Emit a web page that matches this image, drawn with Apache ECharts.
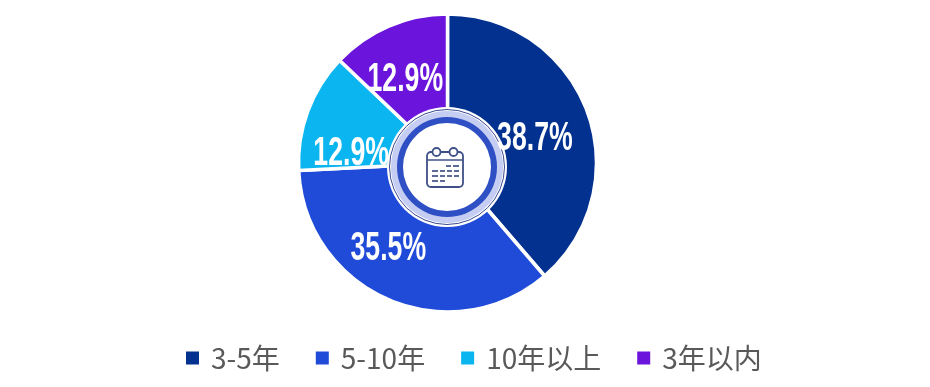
<!DOCTYPE html>
<html lang="zh">
<head>
    <meta charset="UTF-8">
    <title>年限分布</title>
    <script src="https://cdn.jsdelivr.net/npm/echarts@6/dist/echarts.min.js"></script>
    <style>
        html, body { margin: 0; padding: 0; background: #fff; }
        #charts { width: 930px; height: 387px; }
    </style>
</head>
<body>
<div id="charts"></div>
<script>
    var categories = ['3-5年', '5-10年', '10年以上', '3年以内'];
    var values = [38.7, 35.5, 12.9, 12.9];
    var colors = ['#03318f', '#1f4bd8', '#0bb5f0', '#6a14dc'];
    // labels do not sit on the middle of the slice in the original
    var labelOffsets = [[18, 1], [-30, 18], [-27, 16], [-13, -15]];

    var myChart = echarts.init(document.getElementById('charts'));

    var pieCx = 447.5, pieCy = 163, pieR = 149;

    var pieData = [];
    for (var i = 0; i < categories.length; i++) {
        pieData.push({
            name: categories[i],
            value: values[i],
            itemStyle: { color: colors[i] }
        });
    }

    // center badge
    var cx = 447, cy = 167;
    var iconX = 445;
    var iconColor = '#3f5088';
    var rings = [
        { r: 60, fill: '#ffffff' },
        { r: 57.5, fill: '#ffffff', stroke: '#3a4a90' },
        { r: 56, fill: '#c5cdf2' },
        { r: 50, fill: '#2f4fc4' },
        { r: 44, fill: '#ffffff' }
    ];
    var badge = rings.map(function (item) {
        return {
            type: 'circle',
            silent: true,
            z: 10,
            shape: { cx: cx, cy: cy, r: item.r },
            style: { fill: item.fill, stroke: item.stroke || null, lineWidth: 1 }
        };
    });

    function iconLine(x1, y1, x2, y2) {
        return {
            type: 'line',
            silent: true,
            z: 10,
            shape: { x1: x1, y1: y1, x2: x2, y2: y2 },
            style: { stroke: iconColor, lineWidth: 1.7 }
        };
    }
    badge.push({
        type: 'rect',
        silent: true,
        z: 10,
        shape: { x: iconX - 18, y: cy - 15, width: 36, height: 35, r: 4 },
        style: { fill: '#ffffff', stroke: iconColor, lineWidth: 1.8 }
    });
    badge.push(iconLine(iconX - 18, cy - 7, iconX + 18, cy - 7));
    badge.push(iconLine(iconX - 5, cy - 15, iconX + 5, cy - 15));
    badge.push({
        type: 'circle', silent: true, z: 10,
        shape: { cx: iconX - 8.5, cy: cy - 15, r: 4 },
        style: { fill: '#ffffff', stroke: iconColor, lineWidth: 1.8 }
    });
    badge.push({
        type: 'circle', silent: true, z: 10,
        shape: { cx: iconX + 8.5, cy: cy - 15, r: 4 },
        style: { fill: '#ffffff', stroke: iconColor, lineWidth: 1.8 }
    });
    badge.push(iconLine(iconX + 1, cy - 1, iconX + 6, cy - 1));
    badge.push(iconLine(iconX + 8, cy - 1, iconX + 14, cy - 1));
    badge.push(iconLine(iconX - 13, cy + 4, iconX - 7, cy + 4));
    badge.push(iconLine(iconX - 5, cy + 4, iconX, cy + 4));
    badge.push(iconLine(iconX + 2, cy + 4, iconX + 7, cy + 4));
    badge.push(iconLine(iconX + 9, cy + 4, iconX + 14, cy + 4));
    badge.push(iconLine(iconX - 13, cy + 9, iconX - 7, cy + 9));
    badge.push(iconLine(iconX - 5, cy + 9, iconX, cy + 9));
    badge.push(iconLine(iconX + 2, cy + 9, iconX + 7, cy + 9));
    badge.push(iconLine(iconX + 9, cy + 9, iconX + 14, cy + 9));
    badge.push(iconLine(iconX - 13, cy + 14, iconX - 7, cy + 14));
    badge.push(iconLine(iconX - 5, cy + 14, iconX, cy + 14));

    // no condensed font installed: pie labels cannot be squeezed, so they are
    // graphic texts placed from the slice mid angles
    var total = 0, sum = 0;
    for (var j = 0; j < values.length; j++) {
        total += values[j];
    }
    for (var k = 0; k < values.length; k++) {
        var mid = (sum + values[k] / 2) / total * Math.PI * 2;
        sum += values[k];
        badge.push({
            type: 'text',
            silent: true,
            z: 20,
            x: pieCx + 74 * Math.sin(mid) + labelOffsets[k][0],
            y: pieCy - 74 * Math.cos(mid) + labelOffsets[k][1],
            scaleX: 0.65,
            style: {
                text: values[k] + '%',
                fill: '#ffffff',
                fontSize: 41,
                fontWeight: 'bold',
                fontFamily: '"Liberation Sans", sans-serif',
                align: 'center',
                verticalAlign: 'middle'
            }
        });
    }

    var option = {
        animation: false,
        legend: {
            data: categories,
            left: 179,
            top: 339,
            icon: 'rect',
            itemWidth: 15,
            itemHeight: 15,
            itemGap: 34,
            textStyle: {
                color: '#595959',
                fontSize: 28,
                fontFamily: '"Noto Sans CJK SC", "Noto Sans", sans-serif',
                padding: [0, 0, 0, 6]
            }
        },
        graphic: { elements: badge },
        series: [
            {
                type: 'pie',
                center: [pieCx, pieCy],
                radius: [0, pieR],
                startAngle: 90,
                silent: true,
                itemStyle: { borderColor: '#ffffff', borderWidth: 3.5 },
                label: { show: false },
                labelLine: { show: false },
                data: pieData
            }
        ]
    };

    myChart.setOption(option);
</script>
</body>
</html>
